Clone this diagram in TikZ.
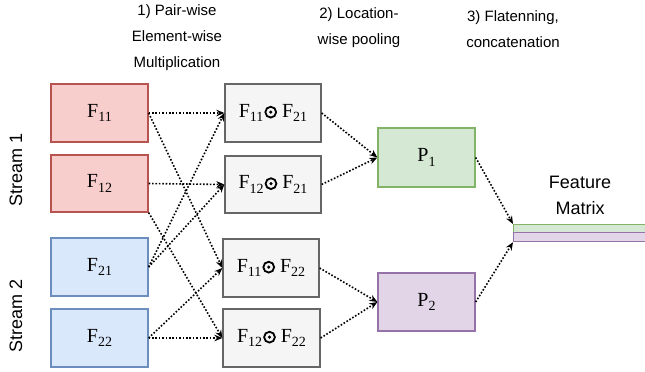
\documentclass[tikz,border=0pt]{standalone}
\usepackage{fontspec}
\setmainfont{Liberation Serif}
\newfontfamily\hsans{Liberation Sans}
\usetikzlibrary{arrows.meta}

\definecolor{redfill}{HTML}{F8CECC}
\definecolor{redline}{HTML}{B85450}
\definecolor{bluefill}{HTML}{DAE8FC}
\definecolor{blueline}{HTML}{6C8EBF}
\definecolor{grayfill}{HTML}{F5F5F5}
\definecolor{grayline}{HTML}{666666}
\definecolor{greenfill}{HTML}{D5E8D4}
\definecolor{greenline}{HTML}{82B366}
\definecolor{purplefill}{HTML}{E1D5E7}
\definecolor{purpleline}{HTML}{9673A6}

\newcommand{\Fsub}[2]{#1\raisebox{-0.24em}{\fontsize{14}{14}\selectfont #2}}
\newcommand{\odotb}{\hspace{1pt}\tikz[x=1pt,y=1pt,baseline=-5pt]{\draw[line width=1.8pt] (0,0) circle (5.4pt); \fill (0,0) circle (1.7pt);}\hspace{5pt}}

\begin{document}
\begin{tikzpicture}[x=1pt,y=-1pt,
  box/.style={draw, line width=1.3pt, inner sep=0pt, minimum width=97pt, minimum height=58pt,
    font=\fontsize{20}{20}\selectfont},
  redbox/.style={box, draw=redline, fill=redfill},
  bluebox/.style={box, draw=blueline, fill=bluefill},
  graybox/.style={box, draw=grayline, fill=grayfill},
  greenbox/.style={box, draw=greenline, fill=greenfill},
  purplebox/.style={box, draw=purpleline, fill=purplefill},
  strip/.style={draw, line width=1.2pt, inner sep=0pt, minimum width=140pt, anchor=north west},
  header/.style={font=\hsans\fontsize{15}{26}\selectfont, align=center},
  biglabel/.style={font=\hsans\fontsize{18}{26}\selectfont, align=center},
  conn/.style={line width=1.6pt, dash pattern=on 1.6pt off 1.8pt, -{Stealth[length=8pt,width=6.5pt]}}
]
\useasboundingbox (0,0) rectangle (645,372);

% headers
\node[header] (h1) at (177,38) {1) Pair-wise\\Element-wise\\Multiplication};
\node[header] (h2) at (359,27.5) {2) Location-\\wise pooling};
\node[header] (h3) at (513,29.5) {3) Flatenning,\\concatenation};

% stream labels
\node[biglabel, rotate=90] (s1) at (16,170) {Stream 1};
\node[biglabel, rotate=90] (s2) at (16,316) {Stream 2};

% input boxes
\node[redbox] (F11) at (99.5,113) {\Fsub{F}{11}};
\node[redbox, minimum height=57pt] (F12) at (99.5,183.5) {\Fsub{F}{12}};
\node[bluebox] (F21) at (99.5,267) {\Fsub{F}{21}};
\node[bluebox] (F22) at (99.5,338) {\Fsub{F}{22}};

% product boxes
\node[graybox, minimum width=96pt] (G1) at (273,113) {\Fsub{F}{11}\odotb\Fsub{F}{21}};
\node[graybox, minimum width=96pt, minimum height=57pt] (G2) at (273,184.5) {\Fsub{F}{12}\odotb\Fsub{F}{21}};
\node[graybox, minimum width=96pt] (G3) at (271,268) {\Fsub{F}{11}\odotb\Fsub{F}{22}};
\node[graybox, minimum width=97pt] (G4) at (271.5,338) {\Fsub{F}{12}\odotb\Fsub{F}{22}};

% pooled boxes
\node[greenbox, minimum height=59pt] (P1) at (426.5,157.5) {\Fsub{P}{1}};
\node[purplebox] (P2) at (426.5,302) {\Fsub{P}{2}};

% feature matrix
\node[biglabel] (fmlabel) at (580,195) {Feature\\Matrix};
\node[strip, draw=greenline, fill=greenfill, minimum height=8pt] (FMa) at (513,224) {};
\node[strip, draw=purpleline, fill=purplefill, minimum height=9pt] (FMb) at (513,232) {};

% connectors
\draw[conn] (F11.east) -- (G1.west);
\draw[conn] (F11.east) -- (G3.west);
\draw[conn] (F12.east) -- (G2.west);
\draw[conn] (F12.south east) -- (G4.west);
\draw[conn] (F21.east) -- (G1.west);
\draw[conn] (F21.east) -- (G2.west);
\draw[conn] (F22.east) -- (G3.west);
\draw[conn] (F22.east) -- (G4.west);

\draw[conn] (G1.east) -- (P1.west);
\draw[conn] (G2.east) -- (P1.west);
\draw[conn] (G3.east) -- (P2.west);
\draw[conn] (G4.east) -- (P2.west);

\draw[conn] (P1.east) -- (FMa.north west);
\draw[conn] (P2.east) -- (FMb.south west);
\end{tikzpicture}
\end{document}
